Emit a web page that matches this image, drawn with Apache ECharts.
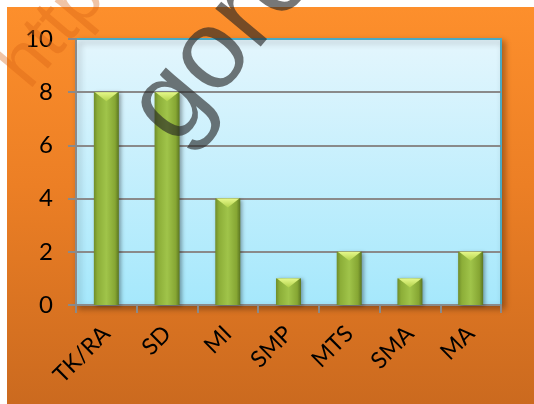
<!DOCTYPE html>
<html>
<head>
<meta charset="utf-8">
<script src="https://cdn.jsdelivr.net/npm/echarts@6/dist/echarts.min.js"></script>
<style>
html,body{margin:0;padding:0;background:#fff;}
#c{width:534px;height:404px;
  background:linear-gradient(to bottom,#fd8f2c 0%,#ec7f25 45%,#cb6a1f 100%) no-repeat 7px 7px / 527px 397px, #fff;}
</style>
</head>
<body>
<div id="c"></div>
<script>
const categories = ['TK/RA', 'SD', 'MI', 'SMP', 'MTS', 'SMA', 'MA'];
const values = [8, 8, 4, 1, 2, 1, 2];
const yTicks = [0, 2, 4, 6, 8, 10];

const chart = echarts.init(document.getElementById('c'), null, {renderer: 'canvas'});
const font = 'Lato, "Noto Sans", sans-serif';
const gray = '#8a8a8a';

const bodyFill = new echarts.graphic.LinearGradient(0, 0, 1, 0, [
  {offset: 0, color: '#6f8d2a'},
  {offset: 0.15, color: '#8cae38'},
  {offset: 0.5, color: '#a0c44a'},
  {offset: 0.85, color: '#86a633'},
  {offset: 1, color: '#5b7621'}
]);
const bevelFill = new echarts.graphic.LinearGradient(0, 0, 0, 1, [
  {offset: 0, color: '#e6f88a'},
  {offset: 1, color: '#b2d24c'}
]);

chart.setOption({
  backgroundColor: 'transparent',
  animation: false,
  grid: {
    left: 76, right: 33, top: 39, bottom: 99,
    show: true,
    backgroundColor: new echarts.graphic.LinearGradient(0, 0, 0, 1, [
      {offset: 0, color: '#e4f6fd'},
      {offset: 1, color: '#a5e8fc'}
    ]),
    borderColor: '#4aa9c4',
    borderWidth: 2,
    shadowBlur: 6,
    shadowOffsetX: 3,
    shadowOffsetY: 3,
    shadowColor: 'rgba(0,0,0,0.3)'
  },
  xAxis: {
    type: 'category',
    data: categories,
    axisLine: {show: true, lineStyle: {color: gray, width: 2}},
    axisTick: {show: true, length: 8, interval: 0, lineStyle: {color: gray, width: 2}},
    axisLabel: {rotate: 45, interval: 0, margin: 25, color: '#000', fontSize: 23, fontFamily: font},
    splitLine: {show: false}
  },
  yAxis: {
    type: 'value',
    min: yTicks[0], max: yTicks[yTicks.length - 1], interval: 2,
    axisLine: {show: true, lineStyle: {color: gray, width: 2}},
    axisTick: {show: true, length: 8, lineStyle: {color: gray, width: 2}},
    axisLabel: {margin: 23, color: '#000', fontSize: 24, fontFamily: font},
    splitLine: {show: true, showMinLine: false, showMaxLine: false, lineStyle: {color: gray, width: 2}}
  },
  series: [{
    type: 'custom',
    data: categories.map((c, i) => [i, values[i]]),
    encode: {x: 0, y: 1},
    z: 5,
    renderItem: function (params, api) {
      const idx = api.value(0), v = api.value(1);
      const top = api.coord([idx, v]);
      const base = api.coord([idx, 0]);
      const w = 25;
      const x = top[0] - w / 2, y = top[1], h = base[1] - top[1];
      const bev = Math.min(9, h / 2);
      return {
        type: 'group',
        children: [
          {type: 'rect', shape: {x: x, y: y, width: w, height: h},
           style: {fill: bodyFill, shadowBlur: 4, shadowOffsetX: 2, shadowOffsetY: 1, shadowColor: 'rgba(0,0,0,0.35)'}},
          {type: 'polygon', shape: {points: [[x + 1, y], [x + w - 1, y], [x + w / 2, y + bev]]},
           style: {fill: bevelFill}}
        ]
      };
    }
  }],
  graphic: [
    {type: 'text', x: 14, y: 78, rotation: 50 * Math.PI / 180, z: 100,
     style: {text: 'http:', font: '72px "Liberation Sans", sans-serif', fill: 'rgba(215,100,20,0.38)', verticalAlign: 'middle', align: 'left'}},
    {type: 'text', x: 152, y: 128, rotation: 50 * Math.PI / 180, z: 100,
     style: {text: 'goro', font: '112px "Liberation Sans", sans-serif', fill: 'rgba(35,35,35,0.62)', verticalAlign: 'middle', align: 'left'}}
  ]
});
</script>
</body>
</html>
